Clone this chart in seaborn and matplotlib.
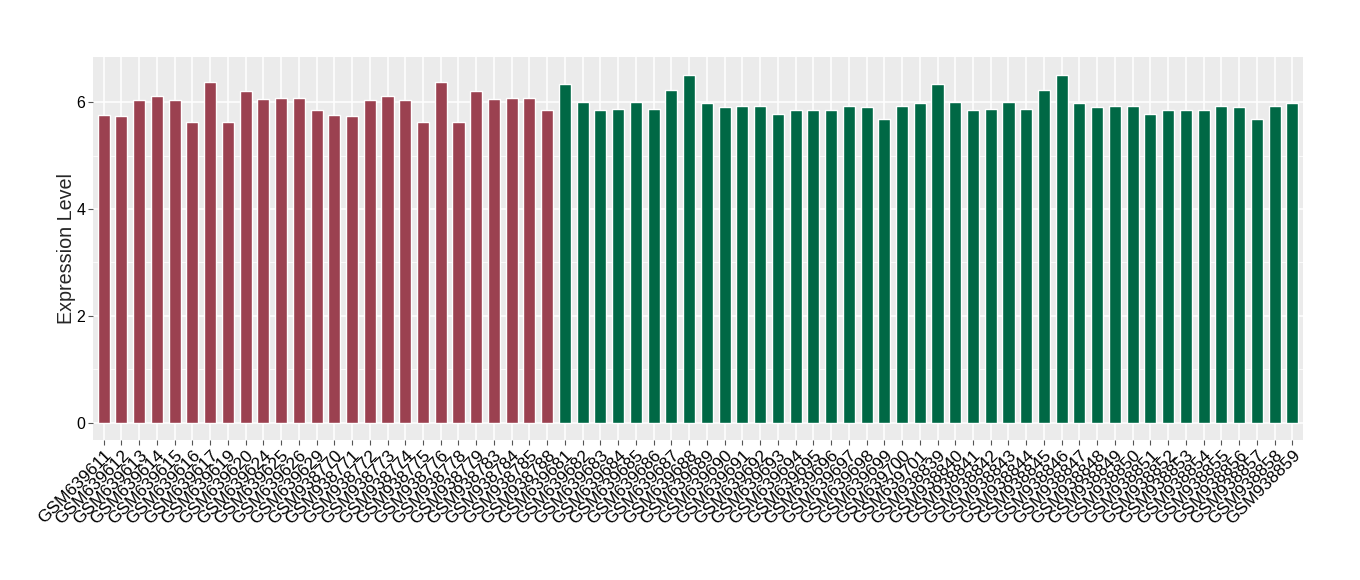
import numpy as np
import pandas as pd
import seaborn as sns
import matplotlib
matplotlib.use("Agg")
import matplotlib.pyplot as plt
from matplotlib.ticker import MultipleLocator

# ----------------------------------------------------------------------------------------------------------------------
# Sample ids and expression values

red_samples = ["GSM639611", "GSM639612", "GSM639613", "GSM639614", "GSM639615", "GSM639616", "GSM639617",
               "GSM639619", "GSM639620", "GSM639624", "GSM639625", "GSM639626", "GSM639629",
               "GSM938770", "GSM938771", "GSM938772", "GSM938773", "GSM938774", "GSM938775", "GSM938776",
               "GSM938778", "GSM938779", "GSM938783", "GSM938784", "GSM938785", "GSM938788"]
red_values = [5.76, 5.74, 6.04, 6.11, 6.04, 5.64, 6.39, 5.64, 6.21, 6.07, 6.09, 6.09, 5.85,
              5.76, 5.74, 6.04, 6.11, 6.04, 5.64, 6.39, 5.64, 6.21, 6.07, 6.09, 6.09, 5.85]

green_samples = ["GSM639681", "GSM639682", "GSM639683", "GSM639684", "GSM639685", "GSM639686", "GSM639687",
                 "GSM639688", "GSM639689", "GSM639690", "GSM639691", "GSM639692", "GSM639693", "GSM639694",
                 "GSM639695", "GSM639696", "GSM639697", "GSM639698", "GSM639699", "GSM639700", "GSM639701",
                 "GSM938839", "GSM938840", "GSM938841", "GSM938842", "GSM938843", "GSM938844", "GSM938845",
                 "GSM938846", "GSM938847", "GSM938848", "GSM938849", "GSM938850", "GSM938851", "GSM938852",
                 "GSM938853", "GSM938854", "GSM938855", "GSM938856", "GSM938857", "GSM938858", "GSM938859"]
green_values = [6.34, 6.00, 5.85, 5.87, 6.00, 5.87, 6.24, 6.52, 5.98, 5.91, 5.93, 5.93, 5.78, 5.85,
                5.85, 5.85, 5.93, 5.91, 5.68, 5.93, 5.98,
                6.34, 6.00, 5.85, 5.87, 6.00, 5.87, 6.24, 6.52, 5.98, 5.91, 5.93, 5.93, 5.78, 5.85,
                5.85, 5.85, 5.93, 5.91, 5.68, 5.93, 5.98]

group_colors = {"red": "#9B4150", "green": "#006845"}

# ----------------------------------------------------------------------------------------------------------------------

df = pd.DataFrame({
    "sample": red_samples + green_samples,
    "value": red_values + green_values,
    "group": ["red"] * len(red_samples) + ["green"] * len(green_samples),
})

sns.set_style("darkgrid", {"axes.facecolor": "#EBEBEB", "grid.color": "white"})
plt.rcParams["font.family"] = ["Liberation Sans", "DejaVu Sans"]

fig = plt.figure(figsize=(13.6, 5.8), dpi=100)
ax = fig.add_axes([93 / 1360, 140 / 580, 1210 / 1360, 383 / 580])

sns.barplot(data=df, x="sample", y="value", hue="group", palette=group_colors,
            dodge=False, width=0.68, legend=False, saturation=1, ax=ax)

# ggplot-like panel: major + minor grid, small ticks, no spines
ax.set_xlim(-0.6, len(df) - 0.4)
ax.set_ylim(-0.326, 6.85)
ax.yaxis.set_major_locator(MultipleLocator(2))
ax.yaxis.set_minor_locator(MultipleLocator(1))
ax.grid(which="major", color="white", linewidth=1.1)
ax.grid(which="minor", axis="y", color="white", linewidth=0.55)
ax.set_axisbelow(True)
for spine in ax.spines.values():
    spine.set_visible(False)

ax.tick_params(axis="both", which="major", length=3.5, width=0.8, color="#555555",
               labelcolor="black", pad=2, bottom=True, left=True)
ax.tick_params(axis="y", which="minor", length=0)
ax.tick_params(axis="y", labelsize=11.5)
ax.tick_params(axis="x", labelsize=12.5)
plt.setp(ax.get_xticklabels(), rotation=45, ha="right", va="top", rotation_mode="anchor")

ax.set_xlabel("")
ax.set_ylabel("Expression Level", fontsize=14.2, labelpad=0)

fig.savefig("out.png", dpi=100)
